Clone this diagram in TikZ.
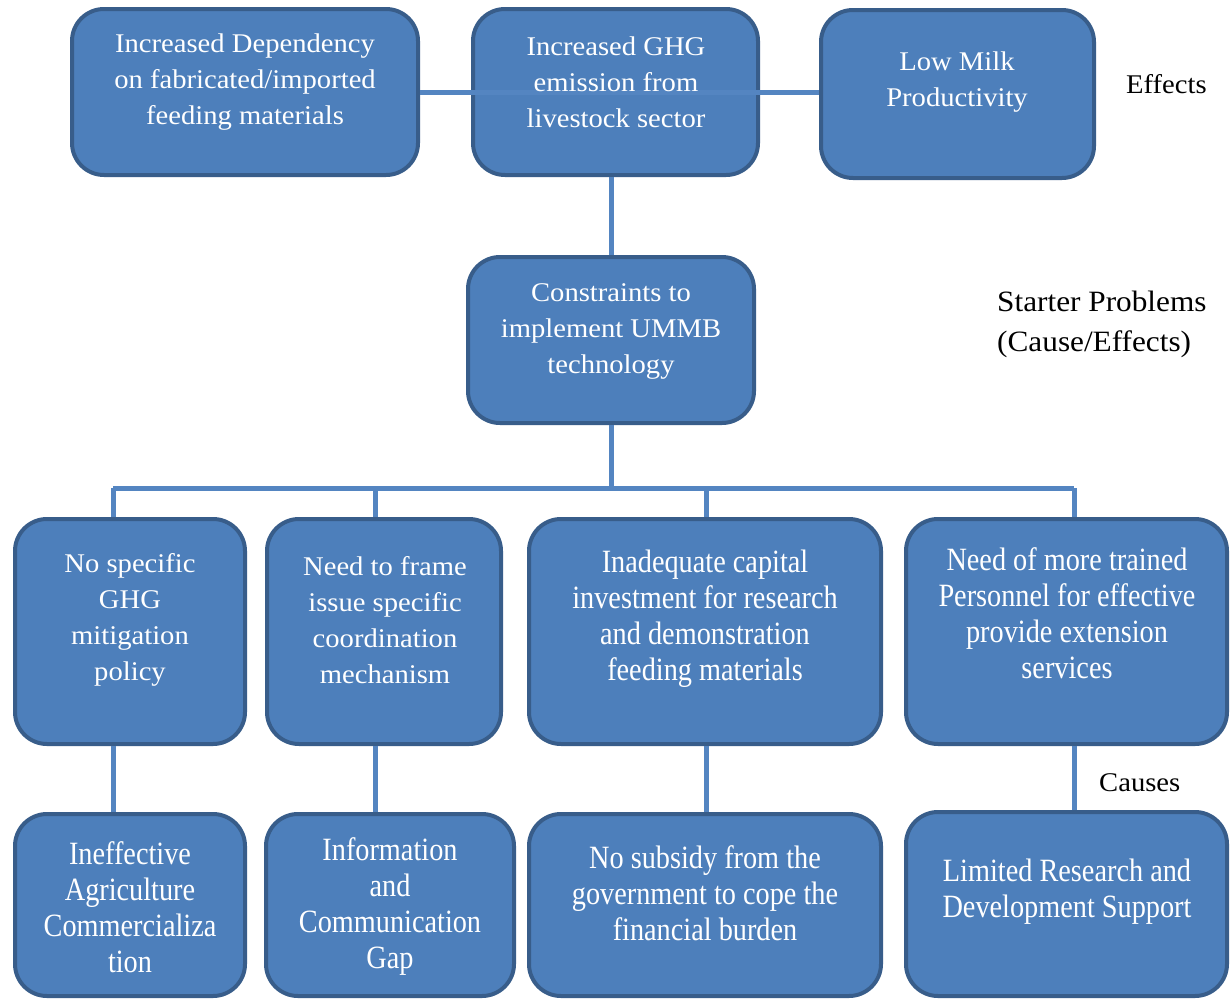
\documentclass[tikz,border=0pt]{standalone}
\usepackage{fontspec}
\setmainfont[FakeStretch=1.06]{Liberation Serif}
\newfontfamily\condfont[FakeStretch=0.87]{Liberation Serif}
\definecolor{boxfill}{HTML}{4D7FBB}
\definecolor{boxborder}{HTML}{385D8A}
\definecolor{linkcol}{HTML}{5485C1}
\begin{document}
\begin{tikzpicture}[x=1pt,y=-1pt,
  box/.style={draw=boxborder, fill=boxfill, line width=4pt, rounded corners=32pt, inner sep=0pt},
  btext/.style={text=white, align=center, font=\fontsize{27}{36}\selectfont, inner sep=0pt},
  ctext/.style={text=white, align=center, font=\condfont\fontsize{32.5}{36}\selectfont, inner sep=0pt},
  side/.style={text=black, align=left, inner sep=0pt, anchor=west},
  link/.style={draw=linkcol, line width=5pt}]
\useasboundingbox (0,0) rectangle (1231,1001);
\fill[white] (0,0) rectangle (1231,1001);
% top row
\node[box, minimum width=346pt, minimum height=166pt] (A) at (245,92) {};
\node[box, minimum width=285pt, minimum height=166pt] (B) at (615.5,92) {};
\node[box, minimum width=273pt, minimum height=168pt] (C) at (957.5,94) {};
\node[box, minimum width=286pt, minimum height=166pt] (D) at (611,340) {};
% row 3
\node[box, minimum width=230pt, minimum height=225pt] (E) at (130,631.5) {};
\node[box, minimum width=234pt, minimum height=225pt] (F) at (384,631.5) {};
\node[box, minimum width=352pt, minimum height=225pt] (G) at (705,631.5) {};
\node[box, minimum width=321pt, minimum height=225pt] (H) at (1066.5,631.5) {};
% row 4
\node[box, minimum width=230pt, minimum height=182pt] (I) at (130,905) {};
\node[box, minimum width=248pt, minimum height=182pt] (J) at (390,905) {};
\node[box, minimum width=352pt, minimum height=182pt] (K) at (705,905) {};
\node[box, minimum width=321pt, minimum height=184pt] (L) at (1066.5,904) {};
% connectors
\coordinate (busL) at (113,488);
\coordinate (busF) at (375,488);
\coordinate (busG) at (706,488);
\coordinate (busR) at (1074,488);
\draw[link] (A.east) -- (A.east -| C.west);
\draw[link] (D.north) -- (D.north |- B.south);
\draw[link] (D.south) -- (D.south |- busL);
\draw[link] (busL) -- (busR);
\draw[link] (busL) -- (busL |- E.north);
\draw[link] (busF) -- (busF |- F.north);
\draw[link] (busG) -- (busG |- G.north);
\draw[link] (busR) -- (busR |- H.north);
\draw[link] (E.south -| busL) -- (I.north -| busL);
\draw[link] (F.south -| busF) -- (J.north -| busF);
\draw[link] (G.south -| busG) -- (K.north -| busG);
\draw[link] (H.south -| busR) -- (L.north -| busR);
% texts
\node[btext] (At) at (245,82) {Increased Dependency\\on fabricated/imported\\feeding materials};
\node[btext] (Bt) at (616,82) {Increased GHG\\emission from\\livestock sector};
\node[btext] (Ct) at (957,82) {Low Milk\\Productivity};
\node[btext] (Dt) at (611,331) {Constraints to\\implement UMMB\\technology};
\node[btext] (Et) at (130,620) {No specific\\GHG\\mitigation\\policy};
\node[btext] (Ft) at (385,620) {Need to frame\\issue specific\\coordination\\mechanism};
\node[ctext] (Gt) at (705,619) {Inadequate capital\\investment for research\\and demonstration\\feeding materials};
\node[ctext] (Ht) at (1067,613) {Need of more trained\\Personnel for effective\\provide extension\\services};
\node[ctext] (It) at (130,907) {Ineffective\\Agriculture\\Commercializa\\tion};
\node[ctext] (Jt) at (390,907) {Information\\and\\Communication\\Gap};
\node[ctext] (Kt) at (705,893) {No subsidy from the\\government to cope the\\financial burden};
\node[ctext] (Lt) at (1067,892) {Limited Research and\\Development Support};
% side labels
\node[side, font=\fontsize{27}{40}\selectfont] (eff) at (1126,84) {Effects};
\node[side, font=\fontsize{29.5}{40}\selectfont] (sp) at (997,324) {Starter Problems\\(Cause/Effects)};
\node[side, font=\fontsize{27}{40}\selectfont] (cau) at (1099,783) {Causes};
\end{tikzpicture}
\end{document}
